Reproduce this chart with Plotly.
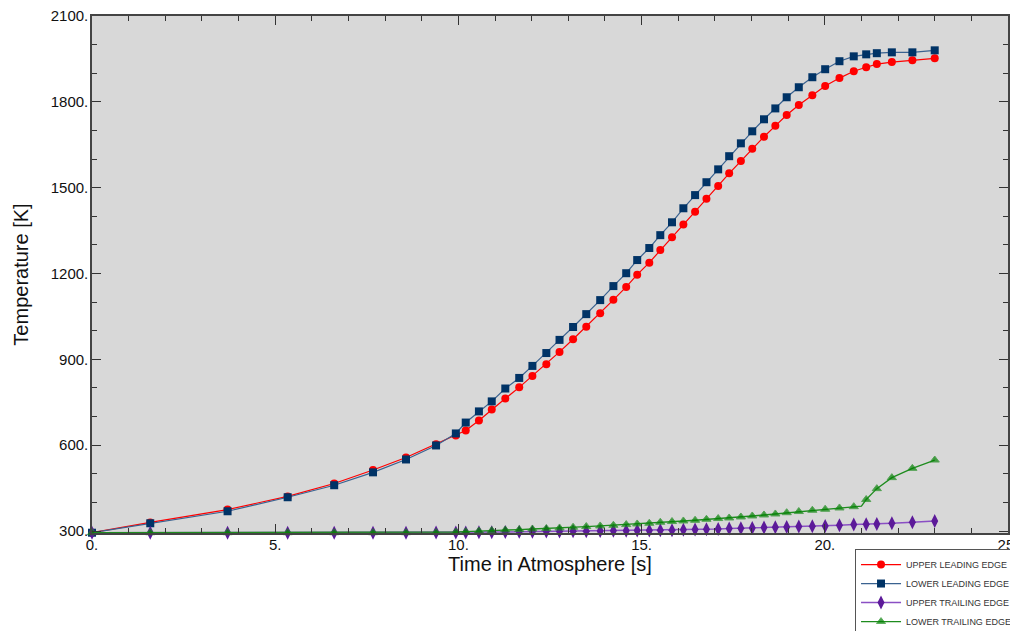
import plotly.graph_objects as go

time_s = [0.0, 1.59, 3.70, 5.34, 6.61, 7.67, 8.57, 9.39, 9.93, 10.20, 10.56, 10.91, 11.28, 11.66,
          12.02, 12.40, 12.76, 13.13, 13.49, 13.87, 14.23, 14.58, 14.88, 15.21, 15.51, 15.83,
          16.14, 16.46, 16.77, 17.09, 17.39, 17.71, 18.02, 18.34, 18.65, 18.96, 19.29, 19.66,
          20.01, 20.40, 20.79, 21.13, 21.42, 21.83, 22.39, 23.00]

upper_leading = [294, 330, 375, 421, 466, 513, 557, 603, 634, 651, 686, 725, 763, 802,
                 842, 883, 926, 970, 1014, 1061, 1108, 1153, 1196, 1238, 1282, 1327,
                 1371, 1416, 1461, 1506, 1550, 1593, 1636, 1678, 1716, 1754, 1789, 1823,
                 1855, 1883, 1907, 1921, 1932, 1939, 1945, 1952]

lower_leading = [294, 327, 369, 418, 460, 505, 550, 599, 641, 679, 718, 753, 798, 835,
                 877, 922, 968, 1013, 1058, 1107, 1156, 1201, 1247, 1289, 1334, 1379,
                 1428, 1474, 1519, 1564, 1610, 1655, 1697, 1739, 1777, 1816, 1851, 1886,
                 1914, 1942, 1959, 1966, 1970, 1973, 1973, 1980]

upper_trailing = [294, 294, 294, 294, 294, 294, 294, 294.5, 295, 295, 295.5, 296, 296.5, 297,
                  297.5, 298, 298.5, 299, 299.5, 300, 300.5, 301, 301.5, 302, 302.5, 303,
                  304, 305, 306, 307, 308.5, 309.5, 310.5, 312, 313, 314, 315.5, 316.5,
                  317.5, 320, 322.5, 323.5, 324.5, 327, 330.5, 335]

# lower trailing edge has an extra unmarked sample at 21.0 s where the curve kinks
lt_time = time_s[:41] + [21.0] + time_s[41:]
lower_trailing = [294, 294, 294, 294, 294, 294, 294, 294.5, 296.5, 297.5, 300, 301.6, 303.7, 305,
                  307, 308.6, 310.6, 313, 315.5, 317.6, 320, 322.4, 324.6, 327, 330.5, 333,
                  335, 337.5, 341, 343.5, 345.5, 349, 352.5, 356, 359.5, 364, 368, 372.5,
                  376, 380.5, 385, 387, 410, 448, 486.5, 519, 548]
lt_sizes = [8] * 41 + [0] + [8] * 5

x_tickvals = [0, 5, 10, 15, 20, 25]
x_ticktext = ["0.", "5.", "10.", "15.", "20.", "25."]
y_tickvals = [300, 600, 900, 1200, 1500, 1800, 2100]
y_ticktext = ["300.", "600.", "900.", "1200.", "1500.", "1800.", "2100."]

fig = go.Figure()
fig.add_trace(go.Scatter(x=time_s, y=upper_leading, mode="lines+markers",
                         name="UPPER LEADING EDGE",
                         line=dict(color="#ff0000", width=1.2),
                         marker=dict(symbol="circle", size=8, color="#ff0000"),
                         cliponaxis=False))
fig.add_trace(go.Scatter(x=time_s, y=lower_leading, mode="lines+markers",
                         name="LOWER LEADING EDGE",
                         line=dict(color="#3a6290", width=1.2),
                         marker=dict(symbol="square", size=8, color="#003366"),
                         cliponaxis=False))
fig.add_trace(go.Scatter(x=time_s, y=upper_trailing, mode="lines+markers",
                         name="UPPER TRAILING EDGE",
                         line=dict(color="#8a4fc4", width=1.5),
                         marker=dict(symbol="diamond-tall", size=10, color="#5c1a99"),
                         cliponaxis=False))
fig.add_trace(go.Scatter(x=lt_time, y=lower_trailing, mode="lines+markers",
                         name="LOWER TRAILING EDGE",
                         line=dict(color="#1e8c1e", width=1.3),
                         marker=dict(symbol="triangle-up", size=lt_sizes, color="#008000"),
                         cliponaxis=False))

axis_font = dict(family="Liberation Sans", size=15, color="#111111")
fig.update_layout(
    width=1010, height=623,
    margin=dict(l=84, r=10, t=8, b=98, autoexpand=False),
    paper_bgcolor="white",
    plot_bgcolor="#d8d8d8",
    font=dict(family="Liberation Sans", color="#111111"),
    showlegend=True,
    legend=dict(x=0.833, y=-0.031, xanchor="left", yanchor="top",
                bgcolor="white", bordercolor="#555555", borderwidth=1,
                font=dict(family="Liberation Sans", size=9, color="#333333"),
                tracegroupgap=0, itemwidth=40),
    xaxis=dict(range=[0, 25], tickvals=x_tickvals, ticktext=x_ticktext,
               tickfont=axis_font, ticks="inside", ticklen=9, tickwidth=1,
               tickcolor="#333333", ticklabeloverflow="allow", ticklabelstandoff=-3,
               minor=dict(dtick=1, ticks="inside", ticklen=5, tickcolor="#333333"),
               showline=True, linecolor="#444444", linewidth=1.5, mirror="allticks",
               showgrid=False, zeroline=False,
               title=dict(text="Time in Atmosphere [s]", font=dict(family="Liberation Sans", size=20),
                          standoff=2)),
    yaxis=dict(range=[293, 2100], tickvals=y_tickvals, ticktext=y_ticktext,
               tickfont=axis_font, ticks="inside", ticklen=9, tickwidth=1,
               tickcolor="#333333", ticklabeloverflow="allow", ticklabelstandoff=-1,
               minor=dict(dtick=100, ticks="inside", ticklen=5, tickcolor="#333333"),
               showline=True, linecolor="#444444", linewidth=1.5, mirror="allticks",
               showgrid=False, zeroline=False,
               title=dict(text="Temperature [K]", font=dict(family="Liberation Sans", size=20),
                          standoff=17)),
)

fig.write_html("out.html")
